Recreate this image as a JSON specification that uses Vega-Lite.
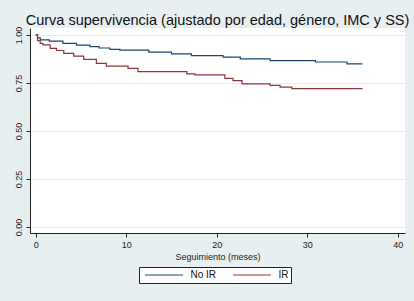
{
  "$schema": "https://vega.github.io/schema/vega-lite/v6.json",
  "width": 375,
  "height": 205,
  "autosize": {"type": "none"},
  "padding": {"left": 30, "top": 28, "right": 9, "bottom": 68},
  "background": "#e8eff1",
  "title": {
    "text": "Curva supervivencia (ajustado por edad, género, IMC y SS)",
    "font": "Liberation Sans",
    "fontSize": 14.5,
    "fontWeight": "normal",
    "color": "#111111",
    "anchor": "middle",
    "frame": "group",
    "baseline": "alphabetic",
    "offset": 0,
    "dy": 13
  },
  "config": {
    "view": {"stroke": null, "fill": "white"},
    "font": "Liberation Sans"
  },
  "data": {
    "values": [
      {"t": 0, "s": 1.0, "g": "No IR"},
      {"t": 0.2, "s": 0.985, "g": "No IR"},
      {"t": 0.5, "s": 0.974, "g": "No IR"},
      {"t": 1.5, "s": 0.968, "g": "No IR"},
      {"t": 3.0, "s": 0.956, "g": "No IR"},
      {"t": 4.5, "s": 0.947, "g": "No IR"},
      {"t": 6.0, "s": 0.939, "g": "No IR"},
      {"t": 7.0, "s": 0.932, "g": "No IR"},
      {"t": 8.2, "s": 0.925, "g": "No IR"},
      {"t": 9.3, "s": 0.921, "g": "No IR"},
      {"t": 12.5, "s": 0.91, "g": "No IR"},
      {"t": 15.0, "s": 0.901, "g": "No IR"},
      {"t": 17.2, "s": 0.892, "g": "No IR"},
      {"t": 20.7, "s": 0.884, "g": "No IR"},
      {"t": 22.6, "s": 0.875, "g": "No IR"},
      {"t": 25.9, "s": 0.866, "g": "No IR"},
      {"t": 30.9, "s": 0.859, "g": "No IR"},
      {"t": 34.4, "s": 0.849, "g": "No IR"},
      {"t": 36.1, "s": 0.849, "g": "No IR"},
      {"t": 0, "s": 1.0, "g": "IR"},
      {"t": 0.2, "s": 0.97, "g": "IR"},
      {"t": 0.5, "s": 0.956, "g": "IR"},
      {"t": 0.8, "s": 0.948, "g": "IR"},
      {"t": 1.6, "s": 0.93, "g": "IR"},
      {"t": 2.3, "s": 0.919, "g": "IR"},
      {"t": 3.1, "s": 0.904, "g": "IR"},
      {"t": 4.2, "s": 0.89, "g": "IR"},
      {"t": 5.3, "s": 0.873, "g": "IR"},
      {"t": 6.7, "s": 0.852, "g": "IR"},
      {"t": 7.8, "s": 0.838, "g": "IR"},
      {"t": 10.2, "s": 0.826, "g": "IR"},
      {"t": 11.3, "s": 0.809, "g": "IR"},
      {"t": 16.7, "s": 0.797, "g": "IR"},
      {"t": 17.6, "s": 0.792, "g": "IR"},
      {"t": 20.9, "s": 0.774, "g": "IR"},
      {"t": 21.8, "s": 0.762, "g": "IR"},
      {"t": 22.8, "s": 0.745, "g": "IR"},
      {"t": 25.9, "s": 0.737, "g": "IR"},
      {"t": 27.0, "s": 0.728, "g": "IR"},
      {"t": 28.3, "s": 0.72, "g": "IR"},
      {"t": 36.1, "s": 0.72, "g": "IR"}
    ]
  },
  "mark": {"type": "line", "interpolate": "step-after", "strokeWidth": 1.2},
  "encoding": {
    "x": {
      "field": "t",
      "type": "quantitative",
      "scale": {"domain": [-0.63, 40.8], "nice": false, "zero": false},
      "axis": {
        "title": "Seguimiento (meses)",
        "values": [0, 10, 20, 30, 40],
        "grid": false,
        "domainColor": "#222222",
        "tickColor": "#222222",
        "tickSize": 4,
        "labelPadding": 3,
        "labelFontSize": 9,
        "labelColor": "#222222",
        "titleFontSize": 9,
        "titleFontWeight": "normal",
        "titleColor": "#222222",
        "titlePadding": 3
      }
    },
    "y": {
      "field": "s",
      "type": "quantitative",
      "scale": {"domain": [-0.031, 1.036], "nice": false, "zero": false},
      "axis": {
        "title": null,
        "values": [0, 0.25, 0.5, 0.75, 1],
        "format": ".2f",
        "grid": true,
        "gridColor": "#e4ecee",
        "gridWidth": 1,
        "domainColor": "#222222",
        "tickColor": "#222222",
        "tickSize": 4,
        "labelPadding": 3,
        "labelFontSize": 9,
        "labelColor": "#222222",
        "labelAngle": 270,
        "labelAlign": "center",
        "labelBaseline": "bottom"
      }
    },
    "color": {
      "field": "g",
      "type": "nominal",
      "scale": {"domain": ["No IR", "IR"], "range": ["#1a476f", "#90353b"]},
      "legend": {
        "title": null,
        "orient": "none",
        "legendX": 109,
        "legendY": 239,
        "direction": "horizontal",
        "fillColor": "white",
        "strokeColor": "#222222",
        "padding": 2,
        "clipHeight": 12,
        "symbolOffset": 3.5,
        "symbolType": "stroke",
        "symbolSize": 1444,
        "symbolStrokeWidth": 1,
        "labelFontSize": 10,
        "labelColor": "#111111",
        "labelOffset": 7,
        "columnPadding": 12
      }
    }
  }
}
